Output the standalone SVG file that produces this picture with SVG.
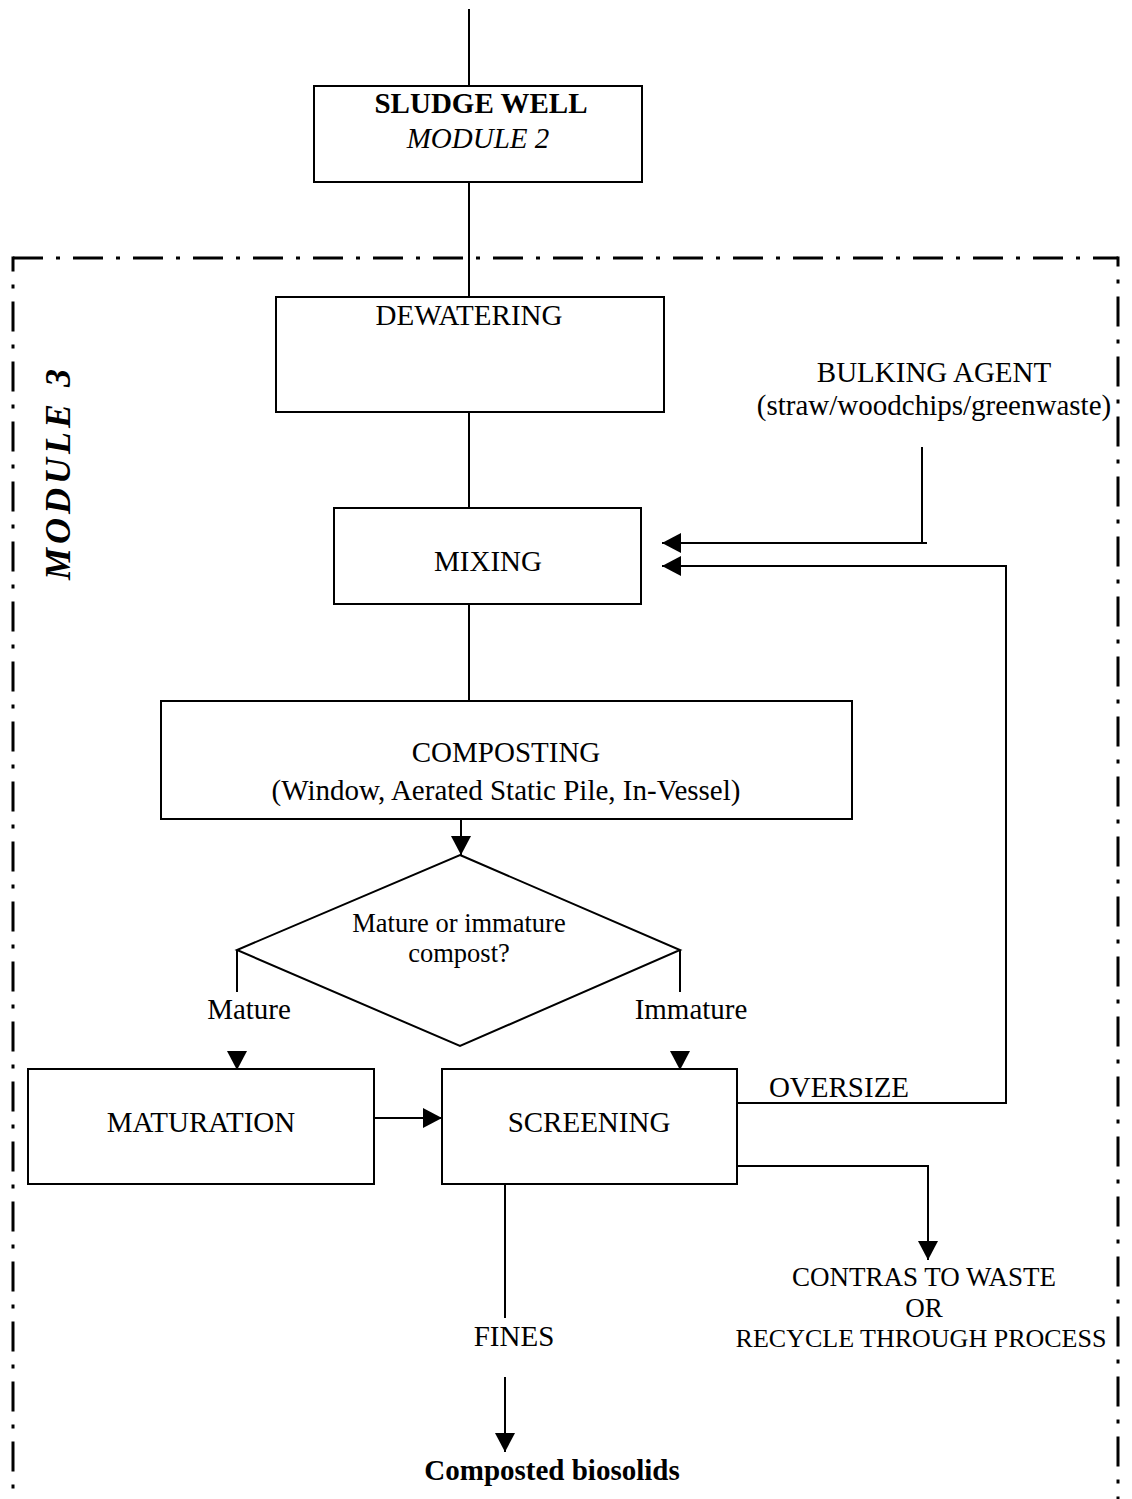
<svg xmlns="http://www.w3.org/2000/svg" width="1132" height="1499" viewBox="0 0 1132 1499">
  <style>
    .box { fill: #fff; stroke: #000; stroke-width: 2; }
    .ln { fill: none; stroke: #000; stroke-width: 2; }
    .border { fill: none; stroke: #000; stroke-width: 3; stroke-dasharray: 30 13 4 13; }
    .head { fill: #000; stroke: none; }
    text { font-family: "Liberation Serif", "Times New Roman", serif; font-size: 29px; fill: #000; text-anchor: middle; }
    .b { font-weight: bold; }
    .i { font-style: italic; }
    .sm { font-size: 26.5px; }
    .nar { font-size: 27px; }
  </style>
  <defs>
    <marker id="arrow" markerUnits="userSpaceOnUse" markerWidth="20" markerHeight="20" refX="19" refY="10" orient="auto">
      <path d="M0,0 L19,10 L0,20 Z" fill="#000"/>
    </marker>
  </defs>
  <rect width="1132" height="1499" fill="#fff"/>

  <!-- Module 3 boundary (dash-dot, open at the bottom) -->
  <g id="module3-boundary">
    <line class="border" x1="13" y1="258" x2="1118" y2="258"/>
    <line class="border" x1="13" y1="256.5" x2="13" y2="1499" stroke-dashoffset="15"/>
    <line class="border" x1="1118" y1="256.5" x2="1118" y2="1499" stroke-dashoffset="20"/>
    <text class="b i" transform="translate(70,580) rotate(-90)" style="font-size:36px;letter-spacing:4px;text-anchor:start">MODULE 3</text>
  </g>

  <!-- Connectors -->
  <g id="connectors">
    <path class="ln" d="M469,9 V86"/>
    <path class="ln" d="M469,182 V297"/>
    <path class="ln" d="M469,412 V508"/>
    <path class="ln" d="M469,604 V701"/>
    <path class="ln" d="M461,819 V855" marker-end="url(#arrow)"/>
    <path class="ln" d="M237,950 V992"/>
    <path class="ln" d="M680,950 V992"/>
    <polygon class="head" points="227,1051 247,1051 237,1070"/>
    <polygon class="head" points="670,1051 690,1051 680,1070"/>
    <path class="ln" d="M374,1118 H442" marker-end="url(#arrow)"/>
    <path class="ln" d="M737,1103 H1006 V566 H662" marker-end="url(#arrow)"/>
    <path class="ln" d="M922,447 V543 H662" marker-end="url(#arrow)"/>
    <path class="ln" d="M922,543 H927"/>
    <path class="ln" d="M733,1166 H928 V1260" marker-end="url(#arrow)"/>
    <path class="ln" d="M505,1184 V1318"/>
    <path class="ln" d="M505,1377 V1452" marker-end="url(#arrow)"/>
    <text x="839" y="1097">OVERSIZE</text>
    <text x="249" y="1019">Mature</text>
    <text x="691" y="1019">Immature</text>
    <text x="514" y="1346">FINES</text>
  </g>

  <g id="sludge-well">
    <rect class="box" x="314" y="86" width="328" height="96"/>
    <text class="b" x="481" y="113">SLUDGE WELL</text>
    <text class="i" x="478" y="148">MODULE 2</text>
  </g>

  <g id="dewatering">
    <rect class="box" x="276" y="297" width="388" height="115"/>
    <text x="469" y="325">DEWATERING</text>
  </g>

  <g id="bulking-agent">
    <text x="934" y="382">BULKING AGENT</text>
    <text x="934" y="415">(straw/woodchips/greenwaste)</text>
  </g>

  <g id="mixing">
    <rect class="box" x="334" y="508" width="307" height="96"/>
    <text x="488" y="571">MIXING</text>
  </g>

  <g id="composting">
    <rect class="box" x="161" y="701" width="691" height="118"/>
    <text x="506" y="762">COMPOSTING</text>
    <text x="506" y="800">(Window, Aerated Static Pile, In-Vessel)</text>
  </g>

  <g id="maturity-decision">
    <polygon class="box" points="460,855 680,950 460,1046 237,950"/>
    <text class="sm" x="459" y="932">Mature or immature</text>
    <text class="sm" x="459" y="962">compost?</text>
  </g>

  <g id="maturation">
    <rect class="box" x="28" y="1069" width="346" height="115"/>
    <text x="201" y="1132">MATURATION</text>
  </g>

  <g id="screening">
    <rect class="box" x="442" y="1069" width="295" height="115"/>
    <text x="589" y="1132">SCREENING</text>
  </g>

  <g id="contras">
    <text class="nar" x="924" y="1286">CONTRAS TO WASTE</text>
    <text class="nar" x="924" y="1317">OR</text>
    <text class="nar" x="921" y="1347" style="font-size:26px">RECYCLE THROUGH PROCESS</text>
  </g>

  <g id="composted-biosolids">
    <text class="b" x="552" y="1480">Composted biosolids</text>
  </g>
</svg>
